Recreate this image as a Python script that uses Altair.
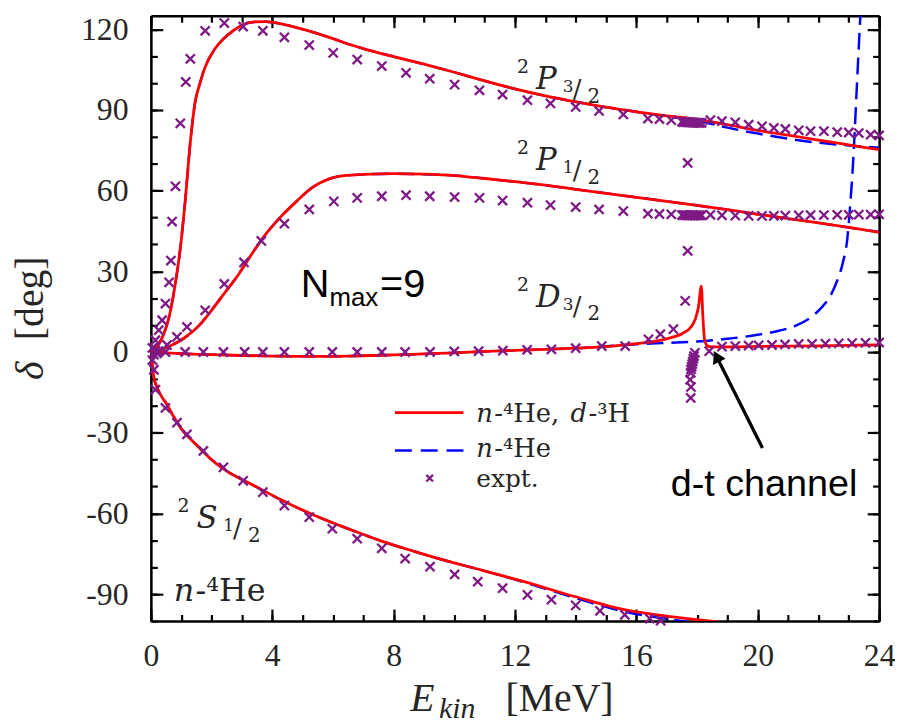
import altair as alt
import pandas as pd

# ------------------------------------------------------------------ data
# theory curves: red = n-4He + d-3H coupled calculation, blue = n-4He only
P32_E = [0, 0.2, 0.4, 0.6, 0.8, 0.97, 1.13, 1.3, 1.46, 1.62, 1.79, 2.11, 2.4, 2.66, 3.0, 3.4,
         3.8, 4.3, 5.0, 6.0, 6.5, 7.0, 8.0, 9.0, 10.0, 11.0, 12.0, 13.0, 14.0, 15.0, 16.0,
         17.0, 18.0, 19.0, 20.0, 21.0, 22.0, 23.0, 24.0]
P32_RED = [0, 2, 6, 13, 25, 38.5, 56, 78, 93, 100, 106, 112.7, 116.5, 119, 121.5, 122.7,
           122.8, 122, 120, 116.5, 114.5, 112.8, 109.8, 107, 104, 100.8, 97.8, 95.2, 93, 91,
           89.3, 87.8, 86.5, 84.5, 82.4, 80.6, 78.8, 77, 75.2]
P32_BLUE = [0, 2, 6, 13, 25, 38.5, 56, 78, 93, 100, 106, 112.7, 116.5, 119, 121.5, 122.7,
            122.8, 122, 120, 116.5, 114.5, 112.8, 109.8, 107, 104, 100.8, 97.8, 95.2, 93, 91,
            89.3, 87.6, 86, 83.4, 81.2, 79.3, 77.8, 76.8, 75.9]

P12_E = [0, 0.3, 0.7, 1.1, 1.6, 2.0, 2.4, 2.9, 3.3, 3.8, 4.3, 4.8, 5.3, 5.6, 6.0, 6.5, 7.0,
         8.0, 9.0, 10.0, 11.0, 12.0, 13.0, 14.0, 15.0, 16.0, 17.0, 18.0, 19.0, 20.0, 21.0,
         22.0, 23.0, 24.0]
P12_RED = [0, 0.8, 2.6, 5.2, 10, 15.5, 21.5, 29, 36, 44, 50.5, 56, 61, 63, 64.8, 65.7, 66,
           66.3, 66.1, 65.6, 64.5, 63.3, 62, 60.5, 59, 57.5, 56, 54.5, 52.9, 51.2, 49.6, 48,
           46.3, 44.5]
P12_BLUE = [0, 0.8, 2.6, 5.2, 10, 15.5, 21.5, 29, 36, 44, 50.5, 56, 61, 63, 64.8, 65.7, 66,
            66.3, 66.1, 65.6, 64.5, 63.3, 62, 60.5, 59, 57.5, 56, 54.5, 52.9, 51.2, 49.6, 48,
            46.3, 44.6]

D32_RED_E = [0, 0.5, 1, 2, 3, 4, 5, 6, 7, 8, 9, 10, 11, 12, 13, 14, 15, 16, 17, 17.5, 17.8,
             17.95, 18.05, 18.14, 18.19, 18.25, 18.35, 18.5, 19, 20, 21, 22, 23, 24]
D32_RED = [0, -0.3, -0.6, -1, -1.3, -1.5, -1.6, -1.6, -1.4, -1.1, -0.7, -0.3, 0.2, 0.6, 1.0,
           1.4, 2.0, 3.1, 4.9, 6.8, 9.3, 12.5, 17.0, 24.5, 13.5, 4.4, 2.2, 1.9, 1.9, 2.1, 2.2,
           2.3, 2.5, 2.6]
D32_BLUE_E = [0, 0.5, 1, 2, 3, 4, 5, 6, 7, 8, 9, 10, 11, 12, 13, 14, 15, 16, 17, 18, 19, 20,
              20.7, 21.24, 21.7, 22.1, 22.4, 22.6, 22.8, 22.95, 23.05, 23.15, 23.25, 23.35,
              23.45]
D32_BLUE = [0, -0.3, -0.6, -1, -1.3, -1.5, -1.6, -1.6, -1.4, -1.1, -0.7, -0.3, 0.2, 0.6, 1.0,
            1.4, 2.1, 2.9, 3.4, 3.9, 4.9, 6.4, 7.9, 9.7, 12.5, 16.5, 21, 26, 33, 42, 55, 72,
            95, 118, 140]

S12_RED_E = [0, 0.04, 0.1, 0.2, 0.35, 0.5, 0.75, 1.0, 1.5, 2.1, 2.6, 3.2, 4.3, 5.4, 6.5, 7.6,
             8.7, 9.7, 10.7, 12.3, 14.0, 15.6, 17.2, 18.7]
S12_RED = [0, -4, -9.5, -13, -16.5, -19, -24, -28.5, -34.5, -41, -45, -48.5, -55, -60.8,
           -65.7, -70.3, -74.2, -77.5, -80.5, -85.4, -91, -95.8, -98.5, -100.3]
S12_BLUE_E = [0, 0.04, 0.1, 0.2, 0.35, 0.5, 0.75, 1.0, 1.5, 2.1, 2.6, 3.2, 4.3, 5.4, 6.5,
              7.6, 8.7, 9.7, 10.7, 12.3, 14.0, 15.6, 17.2, 18.2]
S12_BLUE = [0, -4, -9.5, -13, -16.5, -19, -24, -28.5, -34.5, -41, -45, -48.5, -55, -60.8,
            -65.7, -70.3, -74.2, -77.5, -80.5, -85.6, -91.5, -96.5, -99.5, -101]

# experimental phase shifts
EXP_P32_E = [0.15, 0.26, 0.37, 0.48, 0.6, 0.66, 0.7, 0.81, 0.97, 1.15, 1.3, 1.79, 2.42, 3.04,
             3.69, 4.4, 5.22, 6.01, 6.8, 7.61, 8.41, 9.19, 10.01, 10.83, 11.59, 12.41, 13.17,
             14.0, 14.77, 15.57, 16.38, 16.76, 17.15, 17.5, 17.55, 17.6, 17.65, 17.7, 17.75,
             17.8, 17.85, 17.9, 17.95, 18.0, 18.05, 18.1, 18.15, 18.44, 18.82, 19.26, 19.7,
             20.14, 20.53, 20.91, 21.35, 21.74, 22.18, 22.62, 23.0, 23.33, 23.72, 24.0]
EXP_P32_D = [4.4, 8.1, 11.8, 18, 25.9, 34, 48.5, 61.6, 85, 100.4, 109, 119.4, 122.3, 121,
             119.4, 117, 114.1, 111.2, 108.7, 106.3, 103.8, 101.6, 99.4, 97.3, 95.7, 93.6,
             92.4, 91.1, 89.6, 88.3, 86.8, 86.6, 86.2, 85.6, 85.5, 85.5, 85.5, 85.4, 85.4,
             85.4, 85.3, 85.3, 85.3, 85.2, 85.2, 85.2, 85.2, 86.2, 85.8, 85.4, 84.5, 83.9,
             83.3, 82.9, 82.4, 82.1, 82.1, 81.7, 81.6, 81.4, 80.8, 80.5]
EXP_P12_E = [0.53, 0.86, 1.19, 1.79, 2.42, 3.07, 3.64, 4.4, 5.22, 6.03, 6.8, 7.61, 8.41, 9.19,
             10.01, 10.83, 11.59, 12.41, 13.17, 14.0, 14.77, 15.57, 16.38, 16.76, 17.15, 17.5,
             17.55, 17.6, 17.65, 17.7, 17.75, 17.8, 17.85, 17.9, 17.95, 18.0, 18.05, 18.1,
             18.15, 18.44, 18.82, 19.26, 19.7, 20.14, 20.53, 20.91, 21.35, 21.74, 22.18,
             22.62, 23.0, 23.33, 23.72, 24.0, 17.69, 17.69]
EXP_P12_D = [2.6, 5.6, 9.3, 15.5, 25.3, 33.3, 41.3, 47.7, 53, 56, 57.3, 57.9, 58.3, 57.9,
             57.6, 57.3, 56.3, 55.5, 54.6, 53.9, 53, 52.4, 51.4, 51.3, 51.2, 50.9, 50.9, 50.9,
             50.8, 50.8, 50.8, 50.8, 50.8, 50.8, 50.8, 50.8, 50.8, 50.8, 50.8, 51, 50.8,
             50.7, 50.6, 50.6, 50.6, 50.7, 50.8, 50.9, 50.9, 51, 51, 51.1, 51.1, 51.2, 70.3,
             37.6]
EXP_D32_E = [0.05, 0.1, 0.15, 0.2, 0.25, 0.48, 1.13, 1.73, 2.39, 3.09, 3.69, 4.4, 5.22, 5.98,
             6.8, 7.61, 8.38, 9.2, 10.0, 10.8, 11.6, 12.4, 13.2, 14.0, 14.86, 15.63, 16.4,
             16.79, 17.22, 17.61, 17.93, 17.9, 17.88, 17.86, 17.84, 17.82, 17.8, 17.79, 17.77,
             17.8, 17.79, 18.4, 18.82, 19.26, 19.7, 20.03, 20.47, 20.9, 21.35, 21.79, 22.23,
             22.67, 23.11, 23.55, 24.0]
EXP_D32_D = [1.5, -1, 0.5, -0.5, 0.3, 0, 0, 0, 0, 0, 0, 0, 0, 0, 0, 0, 0, 0, 0.2, 0.3, 0.5,
             0.8, 1.0, 1.4, 2.2, 2.2, 4.7, 6.6, 8.5, 19, -0.3, -1.5, -2.5, -3.5, -4.5, -5.5,
             -6.5, -7.8, -10.3, -13, -17.1, 0.3, 2.0, 2.2, 2.4, 2.5, 2.6, 2.8, 3.0, 3.0, 3.1,
             3.2, 3.3, 3.4, 3.5]
EXP_S12_E = [0.05, 0.1, 0.15, 0.48, 0.86, 1.19, 1.73, 2.39, 3.04, 3.69, 4.4, 5.22, 5.98, 6.8,
             7.61, 8.38, 9.2, 10.01, 10.77, 11.59, 12.41, 13.2, 14.0, 14.8, 15.62, 16.44,
             16.8]
EXP_S12_D = [-3, -6.6, -14, -20.8, -26.3, -30.6, -36.8, -42.9, -47.9, -52.1, -57.1, -61.4,
             -65.7, -69.4, -73, -76.8, -79.8, -82.7, -85.4, -87.8, -90.3, -92.1, -94.2,
             -96.2, -97.7, -99.1, -99.9]

# axis ticks
X_MAJOR = [0, 4, 8, 12, 16, 20, 24]
X_MINOR = list(range(0, 25))
Y_MAJOR = [-90, -60, -30, 0, 30, 60, 90, 120]
Y_MINOR = list(range(-100, 121, 10))

# wave labels (letter anchor in data units)
WAVE_LETTER = ["P", "P", "D", "S"]
WAVE_NUM = ["3", "1", "3", "1"]
WAVE_E = [12.69, 12.69, 12.69, 1.50]
WAVE_D = [97.7, 67.8, 16.9, -65.3]

# ------------------------------------------------------------------ styling
SERIF = "Liberation Serif"
WIDE_SERIF = "DejaVu Serif"
SANS = "Liberation Sans"
PURPLE = "#7e1a86"
RED = "#ff0000"
BLUE = "#0000ff"
INK = "#262626"
XMARK = "M-1,-1L1,1M-1,1L1,-1"

W, H = 734, 610
X_DOMAIN = [0, 24]
Y_DOMAIN = [-100, 125]
PX_E = W / (X_DOMAIN[1] - X_DOMAIN[0])
PX_D = H / (Y_DOMAIN[1] - Y_DOMAIN[0])

xs = alt.Scale(domain=X_DOMAIN, nice=False, zero=False)
ys = alt.Scale(domain=Y_DOMAIN, nice=False, zero=False)


def X(field="E", axis=None):
    return alt.X(f"{field}:Q", scale=xs, axis=axis, title="")


def Y(field="d", axis=None):
    return alt.Y(f"{field}:Q", scale=ys, axis=axis, title="")


def curves(groups):
    rows = []
    for wave, es, ds in groups:
        for e, d in zip(es, ds):
            rows.append({"E": e, "d": d, "wave": wave})
    return pd.DataFrame(rows)


red_df = curves([("P32", P32_E, P32_RED), ("P12", P12_E, P12_RED),
                 ("D32", D32_RED_E, D32_RED), ("S12", S12_RED_E, S12_RED)])
blue_df = curves([("P32", P32_E, P32_BLUE), ("P12", P12_E, P12_BLUE),
                  ("D32", D32_BLUE_E, D32_BLUE), ("S12", S12_BLUE_E, S12_BLUE)])
exp_df = curves([("P32", EXP_P32_E, EXP_P32_D), ("P12", EXP_P12_E, EXP_P12_D),
                 ("D32", EXP_D32_E, EXP_D32_D), ("S12", EXP_S12_E, EXP_S12_D)])

blue = alt.Chart(blue_df).mark_line(
    color=BLUE, strokeWidth=2.5, strokeDash=[17, 8], clip=True, interpolate="monotone"
).encode(x=X(), y=Y(), detail="wave:N")
red = alt.Chart(red_df).mark_line(
    color=RED, strokeWidth=2.8, clip=True, interpolate="monotone"
).encode(x=X(), y=Y(), detail="wave:N")
pts = alt.Chart(exp_df).mark_point(
    shape=XMARK, filled=False, size=85, strokeWidth=2.3, color=PURPLE, opacity=1
).encode(x=X(), y=Y())

# ------------------------------------------------------------------ axes (inward ticks, mirrored)
dummy = pd.DataFrame({"E": [0], "d": [0]})


def ax(orient, values, size, labels=False, domain=False, pad=0):
    kw = dict(orient=orient, values=values, tickSize=alt.ExprRef(expr=str(-size)),
              tickWidth=2.2, tickColor="black", grid=False, labels=labels, domain=domain,
              title="")
    if domain:
        kw.update(domainColor="black", domainWidth=2.6)
    if labels:
        kw.update(labelFont=SERIF, labelFontSize=32, labelColor=INK, labelPadding=pad,
                  labelExpr="'' + datum.value", labelFlush=False, labelOverlap=False)
    return alt.Axis(**kw)


def axis_layer(xa, ya):
    return alt.Chart(dummy).mark_point(opacity=0).encode(x=X(axis=xa), y=Y(axis=ya))


axes = [
    axis_layer(ax("bottom", X_MAJOR, 12, labels=True, domain=True, pad=32),
               ax("left", Y_MAJOR, 12, labels=True, domain=True, pad=35)),
    axis_layer(ax("bottom", X_MINOR, 6.5), ax("left", Y_MINOR, 6.5)),
    axis_layer(ax("top", X_MAJOR, 12, domain=True), ax("right", Y_MAJOR, 12, domain=True)),
    axis_layer(ax("top", X_MINOR, 6.5), ax("right", Y_MINOR, 6.5)),
]

# ------------------------------------------------------------------ legend (inside the frame)
leg_lines = pd.DataFrame({"E0": [8.044, 8.044], "E1": [10.30, 10.30], "d": [-22.5, -36.6],
                          "model": ["red", "blue"]})
leg_red = alt.Chart(leg_lines[leg_lines.model == "red"]).mark_rule(
    color=RED, strokeWidth=2.8).encode(x=X("E0"), x2="E1:Q", y=Y())
leg_blue = alt.Chart(leg_lines[leg_lines.model == "blue"]).mark_rule(
    color=BLUE, strokeWidth=2.5, strokeDash=[17, 9]).encode(x=X("E0"), x2="E1:Q", y=Y())
leg_pt = alt.Chart(pd.DataFrame({"E": [9.188], "d": [-46.9]})).mark_point(
    shape=XMARK, filled=False, size=45, strokeWidth=2.3, color=PURPLE, opacity=1
).encode(x=X(), y=Y())

# ------------------------------------------------------------------ text pieces
rows = []


def add(aE, aD, items, font=WIDE_SERIF, color=INK, angle=0):
    for text, dx, dy, size, style in items:
        rows.append({"E": aE + dx / PX_E, "d": aD - dy / PX_D, "text": text, "fs": size,
                     "style": style, "font": font, "color": color, "angle": angle})


for L, N, e, d in zip(WAVE_LETTER, WAVE_NUM, WAVE_E, WAVE_D):
    add(e, d, [("2", -19, -16, 19, "normal"), (L, 0, 0, 31, "italic"),
               (N, 27, 3, 17, "normal"), ("/", 37, 9, 26, "normal"),
               ("2", 52, 14, 20, "normal")])

add(0.752, -92.6, [("n", 0, 0, 32, "italic"), ("-⁴He", 22, 0, 32, "normal")])
add(10.725, -26.2, [("n", 0, 0, 26, "italic"), ("-⁴He,", 18, 0, 26, "normal"),
                    ("d", 95, 0, 26, "italic"), ("-³H", 113, 0, 26, "normal")])
add(10.725, -39.2, [("n", 0, 0, 26, "italic"), ("-⁴He", 18, 0, 26, "normal")])
add(10.725, -50.2, [("expt.", 0, 0, 25, "normal")])
add(4.937, 20.6, [("N", 0, 0, 40, "normal"), ("max", 29, 9, 26, "normal"),
                  ("=9", 80, 0, 40, "normal")], font=SANS, color="black")
add(17.134, -53.5, [("d-t channel", 0, 0, 38, "normal")], font=SANS, color="black")
add(8.55, -133.6, [("E", 0, 0, 40, "italic"), ("kin", 29, 7, 30, "italic"),
                   ("[MeV]", 96, 0, 40, "normal")], font=SERIF)
add(-3.564, -10.4, [("δ", 0, 0, 40, "italic")], font=SERIF, angle=270)
add(-3.564, 4.4, [("[deg]", 0, 0, 40, "normal")], font=SERIF, angle=270)

txt = pd.DataFrame(rows)
text_layers = []
for (font, style, angle), g in txt.groupby(["font", "style", "angle"]):
    text_layers.append(
        alt.Chart(g).mark_text(font=font, fontStyle=style, align="left",
                               baseline="alphabetic", angle=float(angle)).encode(
            x=X(), y=Y(), text="text:N", size=alt.Size("fs:Q", scale=None),
            color=alt.Color("color:N", scale=None))
    )

# ------------------------------------------------------------------ arrow to the d-t channel
arrow_df = pd.DataFrame({"E": [20.155], "d": [-35.7], "E2": [18.643], "d2": [-1.66]})
arrow_line = alt.Chart(arrow_df).mark_rule(color="black", strokeWidth=3.3).encode(
    x=X(), y=Y(), x2="E2:Q", y2="d2:Q")
arrow_head = alt.Chart(arrow_df).mark_point(
    shape="triangle-up", filled=True, color="black", size=200, angle=333.4, opacity=1
).encode(x=X("E2"), y=Y("d2"))

chart = alt.layer(
    *axes, blue, red, pts, leg_red, leg_blue, leg_pt, arrow_line, arrow_head, *text_layers
).resolve_axis(x="independent", y="independent").properties(
    width=W, height=H,
    padding={"left": 144, "top": 5, "right": 16, "bottom": 100},
    autosize=alt.AutoSizeParams(type="none"),
    background="white",
).configure_view(stroke="transparent")

chart.save("out.html", embed_options={"renderer": "svg", "actions": False})
